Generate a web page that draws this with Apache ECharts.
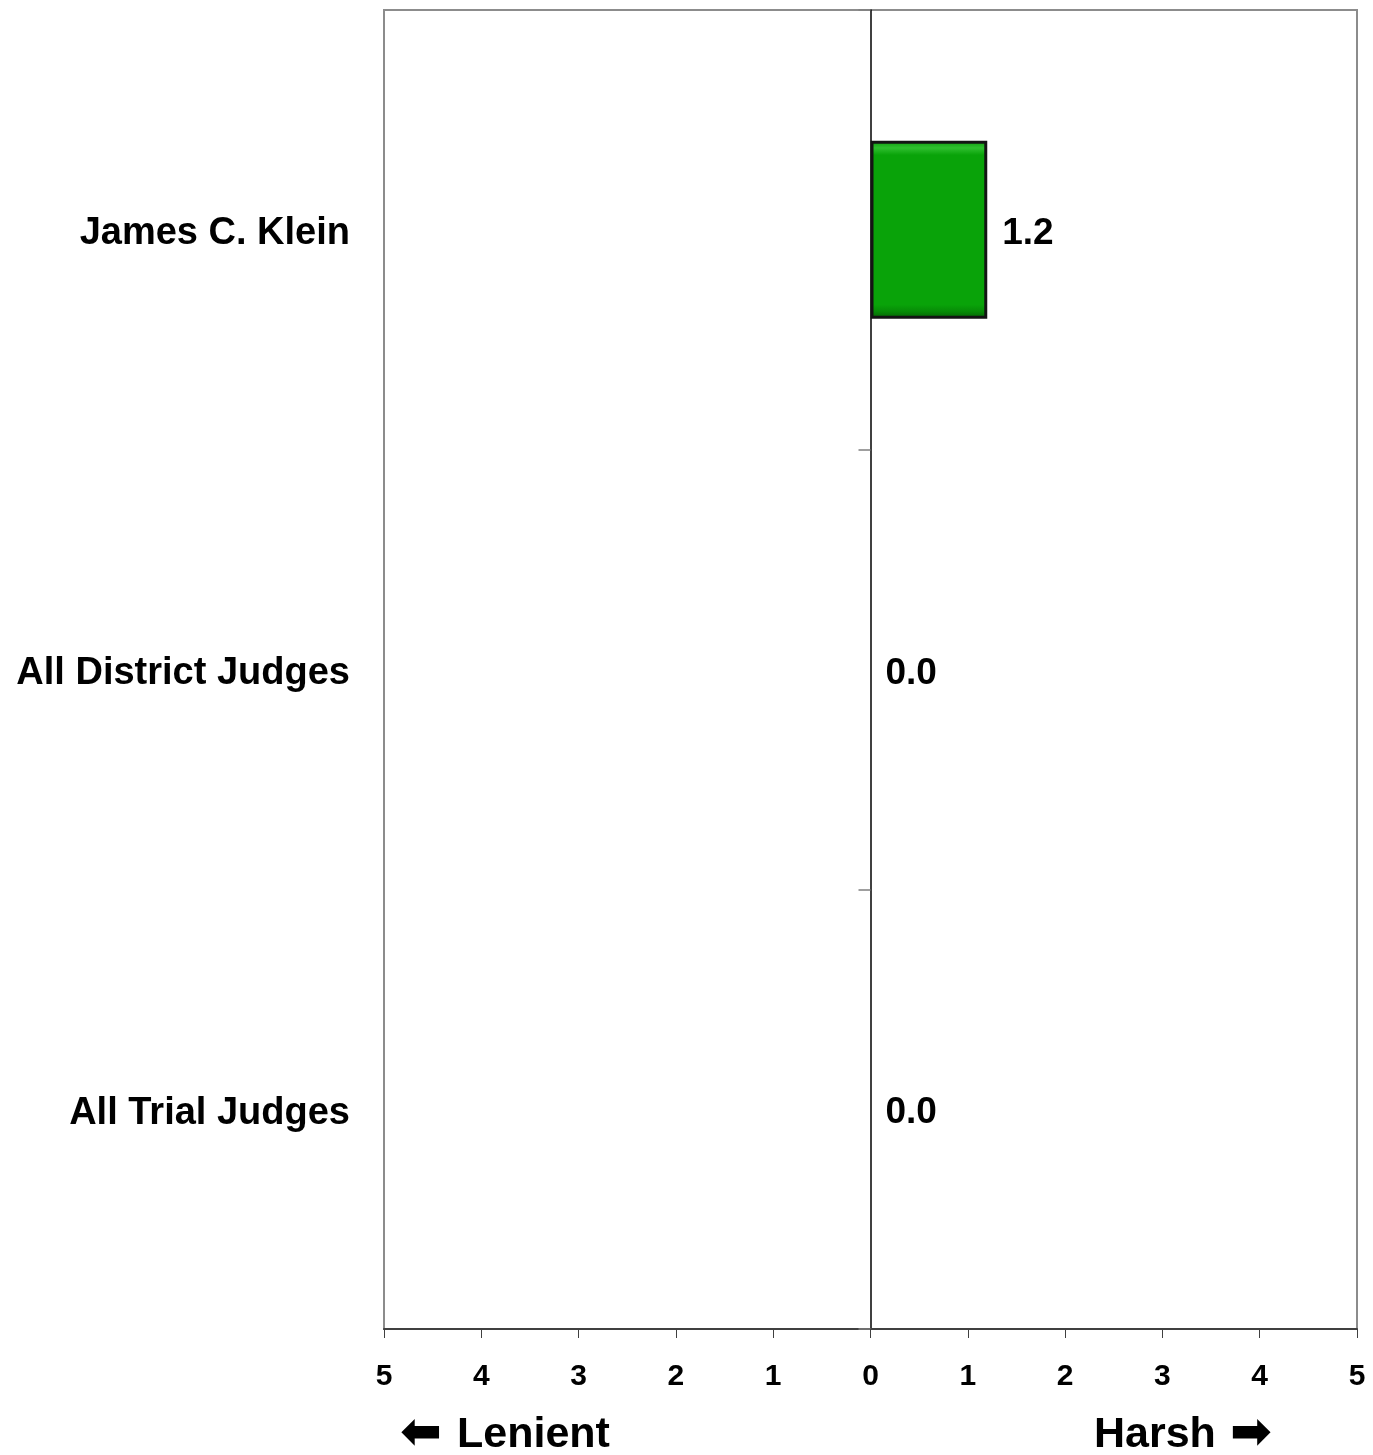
<!DOCTYPE html>
<html><head><meta charset="utf-8">
<script src="https://cdn.jsdelivr.net/npm/echarts@6/dist/echarts.min.js"></script>
<style>html,body{margin:0;padding:0;background:#fff}#c{width:1373px;height:1455px}</style>
</head><body><div id="c"></div>
<script>
const categories = ["James C. Klein", "All District Judges", "All Trial Judges"];
const values = [1.2, 0.0, 0.0];
const axisMin = -5, axisMax = 5, axisStep = 1;
const leftLabel = "Lenient", rightLabel = "Harsh";

const chart = echarts.init(document.getElementById('c'));
const font = 'Liberation Sans, Arial, sans-serif';
const barData = values.map(v => ({value: v, itemStyle: v === 0 ? {borderWidth: 0, opacity: 0} : {}}));
chart.setOption({
  animation: false,
  backgroundColor: '#fff',
  grid: {left: 384, right: 16, top: 10, bottom: 126, show: true, borderColor: '#8c8c8c', borderWidth: 2, backgroundColor: '#fff'},
  xAxis: {
    type: 'value', min: axisMin, max: axisMax, interval: axisStep,
    axisLine: {show: true, onZero: false, lineStyle: {color: '#404040', width: 2}},
    axisTick: {show: true, length: 9, lineStyle: {color: '#404040', width: 1}},
    splitLine: {show: false},
    axisLabel: {margin: 33, fontFamily: font, fontWeight: 'bold', fontSize: 30, color: '#000',
      formatter: v => String(Math.abs(v))}
  },
  yAxis: [{
    type: 'category', data: categories, inverse: true, position: 'left',
    axisLine: {show: false, onZero: false}, axisTick: {show: false},
    axisLabel: {margin: 34, formatter: v => '{a|' + v + '}',
      rich: {a: {fontFamily: font, fontWeight: 'bold', fontSize: 38, color: '#000', padding: [8, 0, 0, 0]}}}
  }, {
    type: 'category', data: categories, inverse: true, position: 'left',
    axisLine: {show: true, onZero: true, lineStyle: {color: '#000', width: 1.5}},
    axisTick: {show: true, length: 12, lineStyle: {color: '#808080', width: 1.5}},
    axisLabel: {show: false}
  }],
  series: [{
    type: 'bar', data: barData, yAxisIndex: 0, barWidth: '40.5%',
    itemStyle: {
      color: {type: 'linear', x: 0, y: 0, x2: 0, y2: 1, colorStops: [
        {offset: 0, color: '#0c9a0c'}, {offset: 0.04, color: '#2fbf2f'}, {offset: 0.08, color: '#09a309'},
        {offset: 0.92, color: '#09a309'}, {offset: 0.96, color: '#078a07'}, {offset: 1, color: '#056005'}]},
      borderColor: '#141414', borderWidth: 3
    },
    label: {show: true, position: 'right', distance: 15, offset: [0, 4], fontFamily: font, fontWeight: 'bold', fontSize: 37, color: '#000',
      opacity: 1, formatter: p => p.value.toFixed(1)}
  }],
  graphic: [
    {type: 'text', left: 400, top: 1410, style: {text: '\u2B05', font: 'bold 50px DejaVu Sans', fill: '#000'}},
    {type: 'text', left: 457, top: 1414, style: {text: leftLabel, font: 'bold 43px ' + font, fill: '#000'}},
    {type: 'text', left: 1094, top: 1414, style: {text: rightLabel, font: 'bold 43px ' + font, fill: '#000'}},
    {type: 'text', left: 1230, top: 1410, style: {text: '\u27A1', font: 'bold 50px DejaVu Sans', fill: '#000'}}
  ]
});
</script></body></html>
